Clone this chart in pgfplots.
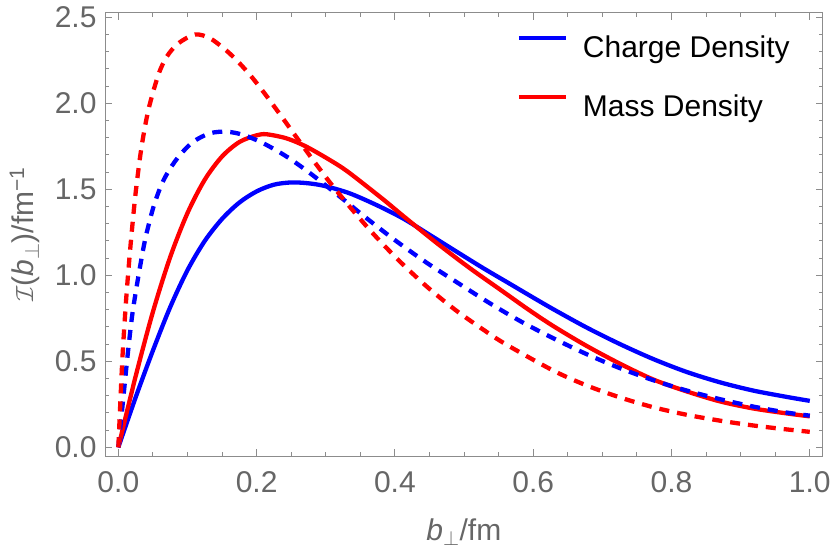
\documentclass[border=0pt]{standalone}
\usepackage{fontspec}
\setmainfont{Liberation Sans}
\usepackage{pgfplots}
\pgfplotsset{compat=1.18}
\definecolor{framegray}{RGB}{140,140,140}
\definecolor{labelgray}{RGB}{102,102,102}
\definecolor{mblue}{RGB}{0,0,255}
\definecolor{mred}{RGB}{255,0,0}
\newcommand{\bigfont}{\fontsize{30bp}{36bp}\selectfont}
\begin{document}
\begin{tikzpicture}
\path[use as bounding box] (0,0) rectangle (830bp,550bp);
\begin{axis}[
  at={(105bp,94bp)}, anchor=south west,
  scale only axis, width=717.7bp, height=443.3bp,
  xmin=-0.0193, xmax=1.0187, ymin=-0.0506, ymax=2.527,
  xtick={0,0.2,0.4,0.6,0.8,1.0},
  ytick={0,0.5,1,1.5,2,2.5},
  minor x tick num=3, minor y tick num=4,
  tick align=inside,
  major tick length=7bp, minor tick length=4bp,
  axis line style={framegray, line width=1bp},
  tick style={framegray, line width=0.9bp},
  /pgf/number format/assume math mode=true,
  xticklabel style={font=\bigfont, text=labelgray, inner sep=0pt, yshift=-15.7bp,
    /pgf/number format/fixed, /pgf/number format/fixed zerofill, /pgf/number format/precision=1},
  yticklabel style={font=\bigfont, text=labelgray, inner sep=0pt, xshift=-8.3bp,
    /pgf/number format/fixed, /pgf/number format/fixed zerofill, /pgf/number format/precision=1},
  xlabel={{\itshape b}$_\perp$/fm},
  ylabel={$\mathcal{I}$({\itshape b}$_\perp$)/fm\textsuperscript{−1}},
  every axis x label/.style={at={(axis description cs:0.5,0)}, anchor=base, yshift=-84bp, font=\bigfont, text=labelgray},
  every axis y label/.style={at={(axis description cs:-0.1003,0.5)}, rotate=90, anchor=base, font=\bigfont, text=labelgray},
  legend image code/.code={\draw[#1] (0bp,12bp) -- (47bp,12bp);},
  legend cell align=left,
  legend style={draw=none, fill=none, at={(axis description cs:0.5736,0.949)}, anchor=north west,
    inner sep=0pt, outer sep=0pt, row sep=30.4bp, column sep=15bp, font=\bigfont, text=black,
    nodes={inner sep=0pt, text height=22bp, text depth=7bp}},
]
% Charge density, solid
\addplot[mblue, line width=4.3bp, smooth, tension=0.5] table {
0 0
0.025 0.29
0.05 0.5625
0.075 0.815
0.1 1.03
0.125 1.20
0.15 1.328
0.175 1.423
0.2 1.488
0.225 1.527
0.25 1.54
0.275 1.535
0.3 1.518
0.335 1.476
0.3737 1.408
0.412 1.33
0.4508 1.234
0.4894 1.137
0.528 1.041
0.5665 0.950
0.593 0.887
0.629 0.803
0.677 0.697
0.7255 0.600
0.7737 0.513
0.822 0.438
0.870 0.378
0.918 0.330
0.9666 0.293
1.0 0.27
};
\addlegendentry{Charge Density}
% Mass density, solid
\addplot[mred, line width=4.3bp, smooth, tension=0.5] table {
0 0
0.025 0.4125
0.05 0.7875
0.075 1.106
0.1 1.362
0.125 1.556
0.15 1.691
0.175 1.775
0.2 1.814
0.2146 1.82
0.2435 1.796
0.2724 1.747
0.311 1.658
0.335 1.593
0.3832 1.441
0.412 1.345
0.4604 1.188
0.5086 1.041
0.5568 0.904
0.593 0.801
0.629 0.705
0.677 0.590
0.7255 0.486
0.7737 0.394
0.822 0.325
0.870 0.267
0.918 0.226
0.9666 0.197
1.0 0.180
};
\addlegendentry{Mass Density}
% Charge density, dashed
\addplot[mblue, line width=4.3bp, dash pattern=on 10bp off 8bp, smooth, tension=0.5, forget plot] table {
0 0
0.004 0.16
0.008 0.32
0.012 0.48
0.016 0.63
0.0208 0.79
0.0289 0.992
0.0386 1.205
0.0506 1.395
0.0627 1.53
0.0748 1.62
0.0892 1.70
0.1085 1.777
0.1326 1.826
0.1568 1.835
0.181 1.816
0.21 1.767
0.2435 1.690
0.2772 1.594
0.3206 1.457
0.359 1.332
0.4026 1.197
0.446 1.073
0.4894 0.960
0.5375 0.837
0.5834 0.729
0.629 0.634
0.677 0.542
0.7255 0.460
0.7737 0.390
0.822 0.330
0.870 0.280
0.918 0.237
0.9666 0.202
1.0 0.184
};
% Mass density, dashed
\addplot[mred, line width=4.3bp, dash pattern=on 10bp off 8bp, smooth, tension=0.5, forget plot] table {
0 0
0.002 0.18
0.004 0.36
0.0063 0.55
0.0111 0.85
0.016 1.099
0.0208 1.312
0.0256 1.50
0.0333 1.74
0.0434 1.961
0.0578 2.165
0.070 2.271
0.0868 2.349
0.111 2.40
0.1326 2.378
0.1568 2.305
0.176 2.230
0.195 2.143
0.2146 2.041
0.2386 1.909
0.2628 1.774
0.287 1.641
0.306 1.540
0.335 1.397
0.3688 1.241
0.405 1.089
0.446 0.935
0.487 0.800
0.530 0.678
0.5617 0.596
0.629 0.446
0.677 0.360
0.7255 0.290
0.7737 0.233
0.822 0.189
0.870 0.155
0.918 0.127
0.9666 0.104
1.0 0.090
};
\end{axis}
\end{tikzpicture}
\end{document}
